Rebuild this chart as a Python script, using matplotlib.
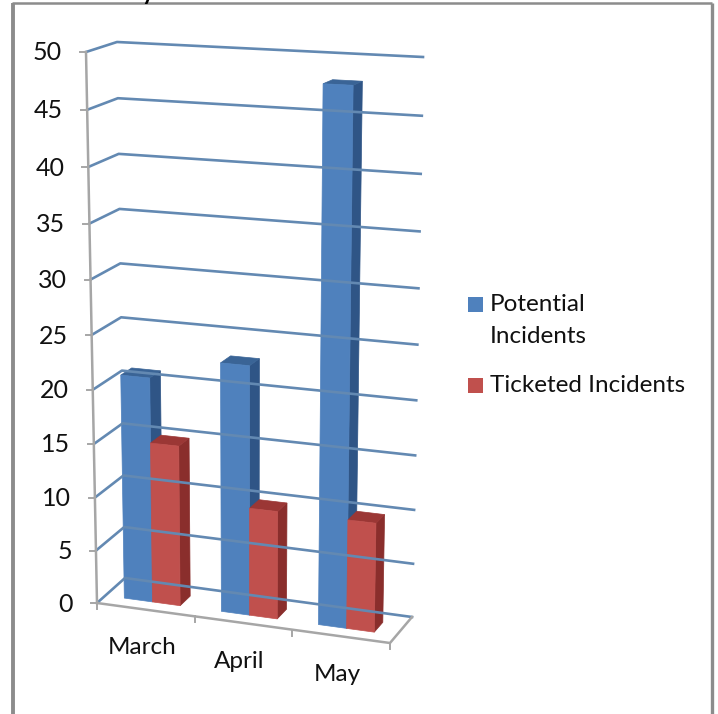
import matplotlib
matplotlib.use('Agg')
import matplotlib.pyplot as plt
from matplotlib.patches import Polygon, Rectangle

plt.rcParams['font.family'] = ['Lato', 'DejaVu Sans']

categories = ['March', 'April', 'May']
potential = [21, 23, 48]
ticketed = [15, 10, 10]
y_ticks = [0, 5, 10, 15, 20, 25, 30, 35, 40, 45, 50]
legend_labels = ['Potential\nIncidents', 'Ticketed Incidents']

BLUE = ('#4F81BD', '#2F5586', '#3A6496')   # front, side, top
RED = ('#C0504D', '#8A2E2C', '#9B3735')
GRID = '#6389B2'
AXIS = '#A6A6A6'
FRAME = '#8C8C8C'

# corners of the fake 3d box in pixels: (value 0, value 50)
FL = ((97, 603), (86, 52))
BL = ((125, 578), (117, 42))
BR = ((412, 617), (423, 57))
FR = ((390, 643), (400, 67))


def warp(v):
    # perspective makes the upper units a bit taller
    return (10.42 * v + 0.012 * v * v) / 551


def proj(x, depth, v):
    # x is in category units (0-3), depth 0 front to 1 back, v is the value
    t = x / len(categories)
    w = warp(v)
    out = []
    for k in (0, 1):
        fl = FL[0][k] + (FL[1][k] - FL[0][k]) * w
        bl = BL[0][k] + (BL[1][k] - BL[0][k]) * w
        br = BR[0][k] + (BR[1][k] - BR[0][k]) * w
        fr = FR[0][k] + (FR[1][k] - FR[0][k]) * w
        left = fl + (bl - fl) * depth
        right = fr + (br - fr) * depth
        out.append(left + (right - left) * t)
    return out


def bar(x0, x1, v, colors, d0=0.3, d1=0.68):
    front = [proj(x0, d0, 0), proj(x1, d0, 0), proj(x1, d0, v), proj(x0, d0, v)]
    side = [proj(x1, d0, 0), proj(x1, d1, 0), proj(x1, d1, v), proj(x1, d0, v)]
    top = [proj(x0, d0, v), proj(x1, d0, v), proj(x1, d1, v), proj(x0, d1, v)]
    for pts, c in ((side, colors[1]), (top, colors[2]), (front, colors[0])):
        ax.add_patch(Polygon(pts, closed=True, fc=c, ec=c, lw=0.5))


fig = plt.figure(figsize=(7.18, 7.14), dpi=100)
ax = fig.add_axes([0, 0, 1, 1])
ax.set_xlim(0, 718)
ax.set_ylim(714, 0)
ax.axis('off')

# outer frame
ax.plot([13, 13], [714, 3], color=FRAME, lw=2.8, solid_capstyle='butt')
ax.plot([12, 712], [3, 3], color=FRAME, lw=1.8, solid_capstyle='butt')
ax.plot([712, 712], [3, 714], color=FRAME, lw=2.4, solid_capstyle='butt')
ax.text(148, -8, 'y', fontsize=17, fontweight='bold', color='black', ha='center', va='center')

# gridlines on left wall and back wall
for v in y_ticks:
    a, b, c = proj(0, 0, v), proj(0, 1, v), proj(3, 1, v)
    ax.plot([a[0], b[0], c[0]], [a[1], b[1], c[1]], color=GRID, lw=1.9, solid_joinstyle='round')
    ax.plot([a[0] - 6, a[0]], [a[1], a[1]], color=AXIS, lw=1.4)
    ax.text(a[0] - 24, a[1] + 1, str(v), fontsize=18, ha='right', va='center', color='#111111')

# axis lines
p0, p1 = proj(0, 0, 0), proj(0, 0, 50)
ax.plot([p0[0], p1[0]], [p0[1], p1[1]], color=AXIS, lw=1.8)
p2, p3 = proj(3, 0, 0), proj(3, 1, 0)
ax.plot([p0[0], p2[0], p3[0]], [p0[1], p2[1], p3[1]], color=AXIS, lw=1.8)
for i in range(len(categories) + 1):
    p = proj(i, 0, 0)
    ax.plot([p[0], p[0]], [p[1], p[1] + 6], color=AXIS, lw=1.4)

# bars
for i in range(len(categories)):
    bar(i + 0.195, i + 0.485, potential[i], BLUE)
    bar(i + 0.485, i + 0.77, ticketed[i], RED)
    p = proj(i + 0.5, 0, 0)
    ax.text(p[0] - 4, p[1] + 38, categories[i], fontsize=17.5, ha='center', va='center', color='#111111')

# legend
ax.add_patch(Rectangle((468, 297), 15, 15, fc=BLUE[0], ec='none'))
ax.text(490, 320.5, legend_labels[0], fontsize=17.5, ha='left', va='center', color='#111111', linespacing=1.6)
ax.add_patch(Rectangle((468, 378), 15, 15, fc=RED[0], ec='none'))
ax.text(490, 385.5, legend_labels[1], fontsize=17.5, ha='left', va='center', color='#111111')

fig.savefig('out.png', dpi=100)
